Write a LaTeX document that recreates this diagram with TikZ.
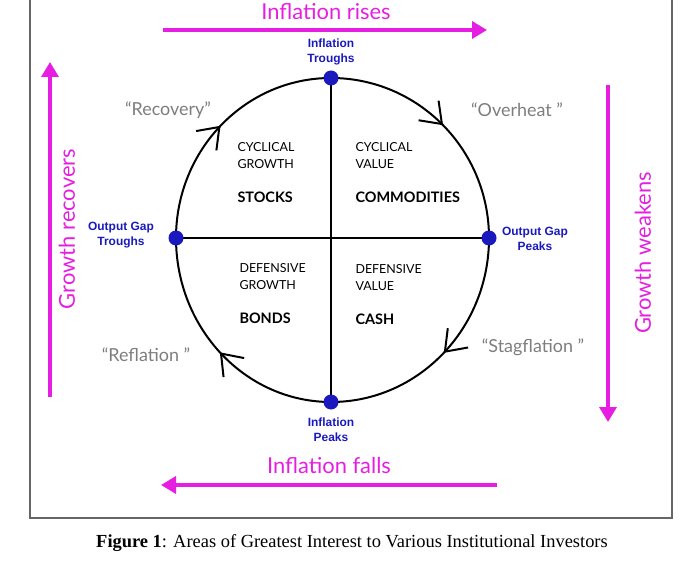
\documentclass[tikz,border=0pt]{standalone}
\usepackage{fontspec}
\setmainfont{Liberation Serif}
\newfontfamily\phasefont{Lato}
\newfontfamily\pointfont{Liberation Sans}
\usetikzlibrary{arrows.meta,decorations.markings}
\definecolor{trendmag}{RGB}{230,30,225}
\definecolor{pointblue}{RGB}{25,25,190}
\definecolor{quotegray}{RGB}{125,125,125}
\begin{document}
\begin{tikzpicture}[x=1bp,y=-1bp,
    trend/.style={draw=trendmag,line width=3.5bp,-{Triangle[length=15bp,width=17bp]}},
    trendtext/.style={text=trendmag,font=\phasefont\fontsize{22}{22}\selectfont},
    cycle/.style={draw=black,line width=2bp,postaction={decorate},
      decoration={markings,mark=at position 0.5 with {\arrow[line width=2bp]{Straight Barb[length=19bp,width=28bp]}}}},
    dot/.style={circle,fill=pointblue,inner sep=0pt,minimum size=15bp},
    pointtext/.style={text=pointblue,align=center,font=\pointfont\bfseries\fontsize{12}{15}\selectfont},
    phase/.style={text=quotegray,font=\phasefont\fontsize{18}{18}\selectfont},
    quad/.style={align=left,anchor=west,font=\phasefont\fontsize{12.5}{17}\selectfont},
    asset/.style={anchor=west,font=\phasefont\bfseries\fontsize{14.5}{17}\selectfont}]
  \useasboundingbox (0,0) rectangle (700,578);
  \draw[line width=1.5bp,black!60] (30,-10) rectangle (672,518);

  % turning points of the cycle
  \coordinate (top) at (331,78);
  \coordinate (bot) at (331,402);
  \coordinate (lft) at (176,238);
  \coordinate (rgt) at (489,238);

  \begin{scope}[every edge/.style={draw=black,line width=2bp}]
  \path (top) edge (bot);
  \path (lft) edge (rgt);
  \end{scope}
  \draw[cycle] (top) arc[start angle=-90,end angle=0,x radius=158,y radius=160];
  \draw[cycle] (rgt) arc[start angle=0,end angle=90,x radius=158,y radius=164];
  \draw[cycle] (bot) arc[start angle=90,end angle=180,x radius=155,y radius=164];
  \draw[cycle] (lft) arc[start angle=180,end angle=270,x radius=155,y radius=160];

  \begin{scope}[every node/.style={dot}]
  \node (topdot) at (top) {};
  \node (botdot) at (bot) {};
  \node (lftdot) at (lft) {};
  \node (rgtdot) at (rgt) {};
  \end{scope}

  \node[pointtext] (toplbl) at (331,52) {Inflation\\Troughs};
  \node[pointtext] (botlbl) at (331,430) {Inflation\\Peaks};
  \node[pointtext] (lftlbl) at (121,235) {Output Gap\\Troughs};
  \node[pointtext] (rgtlbl) at (535,239) {Output Gap\\Peaks};

  % quadrants
  \node[quad] (cgrowth) at (234,156) {CYCLICAL\\GROWTH};
  \node[asset] (stocks) at (234,197) {STOCKS};
  \node[quad] (cvalue) at (352,156) {CYCLICAL\\VALUE};
  \node[asset] (commod) at (352,197) {COMMODITIES};
  \node[quad] (dgrowth) at (236,277) {DEFENSIVE\\GROWTH};
  \node[asset] (bonds) at (236,318) {BONDS};
  \node[quad] (dvalue) at (352,278) {DEFENSIVE\\VALUE};
  \node[asset] (cash) at (352,319) {CASH};

  \node[phase] (recovery) at (168,110) {“Recovery”};
  \node[phase] (overheat) at (517,110) {“Overheat ”};
  \node[phase] (reflation) at (146,355) {“Reflation ”};
  \node[phase] (stagfl) at (533,347) {“Stagflation ”};

  % trend arrows
  \coordinate (risesA) at (163,30);
  \coordinate (risesB) at (487,30);
  \coordinate (fallsA) at (497,485);
  \coordinate (fallsB) at (161,485);
  \coordinate (recovA) at (50,397);
  \coordinate (recovB) at (50,62);
  \coordinate (weakA) at (608,85);
  \coordinate (weakB) at (608,422);
  \draw[trend] (risesA) -- (risesB);
  \draw[trend] (fallsA) -- (fallsB);
  \draw[trend] (recovA) -- (recovB);
  \draw[trend] (weakA) -- (weakB);
  \node[trendtext] (rises) at (326,12) {Inflation rises};
  \node[trendtext] (falls) at (329,466) {Inflation falls};
  \node[trendtext,rotate=90] (recovers) at (67,229) {Growth recovers};
  \node[trendtext,rotate=90] (weakens) at (643,253) {Growth weakens};

  \node[font=\fontsize{18.5}{18.5}\selectfont] (caption) at (352,543)
    {\textbf{Figure 1}: Areas of Greatest Interest to Various Institutional Investors};
\end{tikzpicture}
\end{document}
